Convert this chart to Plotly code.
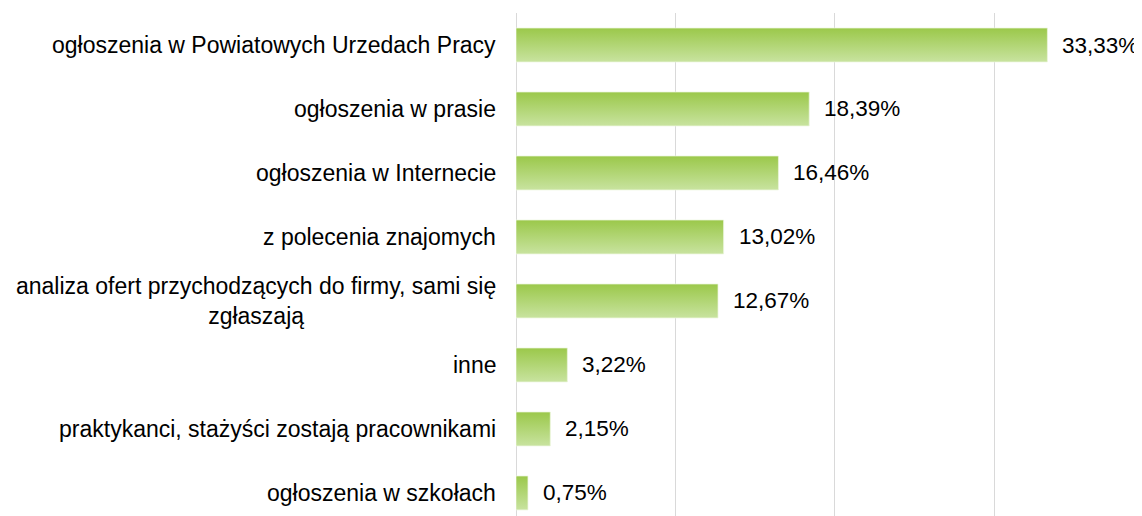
import plotly.graph_objects as go

# dane
kategorie = [
    'ogłoszenia w Powiatowych Urzedach Pracy',
    'ogłoszenia w prasie',
    'ogłoszenia w Internecie',
    'z polecenia znajomych',
    'analiza ofert przychodzących do firmy, sami się<br>zgłaszają',
    'inne',
    'praktykanci, stażyści zostają pracownikami',
    'ogłoszenia w szkołach',
]
wartosci = [33.33, 18.39, 16.46, 13.02, 12.67, 3.22, 2.15, 0.75]

C_TOP = '#9bc84a'
C_BOT = '#c8e39f'
FONT = 'Liberation Sans, Arial, sans-serif'
GRUBOSC = 0.53

fig = go.Figure()

# słupki jako wielokąty z gradientem pionowym (ciemniejszy u góry)
for i, v in enumerate(wartosci):
    y0, y1 = i - GRUBOSC / 2, i + GRUBOSC / 2
    fig.add_trace(go.Scatter(
        x=[0, v, v, 0, 0], y=[y0, y0, y1, y1, y0],
        mode='lines', fill='toself',
        line=dict(width=0.8, color='rgba(235,245,220,0.9)'),
        fillgradient=dict(type='vertical',
                          colorscale=[[0, C_BOT], [1, C_TOP]]),
        hoverinfo='skip', showlegend=False,
    ))

# etykiety wartości
for i, v in enumerate(wartosci):
    fig.add_annotation(
        x=v, y=i, text=f'{v:.2f}'.replace('.', ',') + '%',
        xanchor='left', xshift=13, showarrow=False,
        font=dict(size=22.5, color='#000000', family=FONT),
    )

# etykiety kategorii
for i, k in enumerate(kategorie):
    fig.add_annotation(
        x=0, xref='paper', y=i, text=k,
        xanchor='right', xshift=-18, align='center', showarrow=False,
        font=dict(size=23, color='#000000', family=FONT),
    )

fig.update_xaxes(range=[0, 35], dtick=10, showgrid=True, gridcolor='#d9d9d9',
                 gridwidth=1, showticklabels=False, zeroline=True,
                 zerolinecolor='#d9d9d9', zerolinewidth=1, showline=False)
fig.update_yaxes(range=[7.36, -0.5], showgrid=False, showticklabels=False,
                 zeroline=False, showline=False)

# strona ma 8px marginesu, stąd 1134x508
fig.update_layout(
    width=1134, height=508,
    margin=dict(l=508, r=68, t=5, b=0),
    plot_bgcolor='white', paper_bgcolor='white',
    font=dict(family=FONT, size=23, color='#000000'),
)

fig.write_html('out.html')
